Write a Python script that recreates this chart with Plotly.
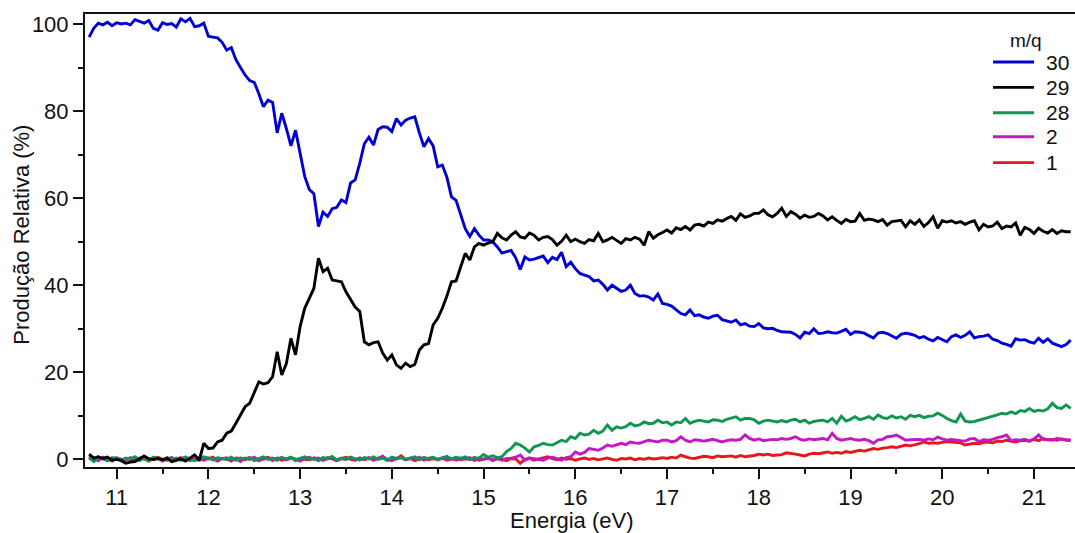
import plotly.graph_objects as go

# Relative ion yield (%) vs photon energy (eV), sampled every 0.05 eV from 10.70 eV
ENERGY_START = 10.70
ENERGY_STEP = 0.05

# m/q = 30
yield_30 = [
    97.0, 99.0, 100.2, 99.8, 100.4, 99.6, 100.3, 100.0, 100.2, 99.8,
    101.0, 100.6, 100.2, 100.8, 99.0, 98.6, 100.3, 99.9, 100.1, 99.3,
    101.2, 100.5, 101.3, 99.4, 99.6, 100.2, 97.2, 97.0, 96.8, 95.8,
    94.0, 94.6, 91.8, 90.0, 88.3, 87.0, 86.6, 84.0, 81.0, 82.5,
    82.0, 75.0, 79.5, 76.0, 72.0, 75.6, 70.5, 65.0, 62.0, 61.0,
    53.5, 56.8, 55.8, 57.6, 57.9, 59.6, 59.0, 63.5, 64.2, 68.0,
    72.5, 74.0, 72.2, 75.8, 76.4, 76.3, 75.3, 78.3, 76.8, 77.9,
    78.4, 78.7, 75.0, 71.8, 73.7, 72.0, 67.2, 67.6, 64.8, 60.3,
    59.5, 56.3, 53.0, 51.2, 53.0, 51.5, 50.4, 50.4, 50.0, 48.8,
    47.4, 47.7, 48.0, 46.3, 43.6, 46.5, 45.8, 46.0, 46.3, 46.7,
    45.2, 46.4, 45.9, 47.6, 44.3, 45.3, 43.8, 42.7, 42.3, 42.0,
    41.0, 41.2, 40.2, 38.9, 40.0, 39.2, 38.6, 38.9, 40.0, 38.1,
    37.5, 37.6, 37.3, 36.6, 38.0, 35.8, 35.6, 35.2, 34.3, 33.5,
    33.2, 34.3, 33.0, 33.2, 32.7, 32.4, 32.9, 33.1, 32.1, 31.8,
    31.5, 32.0, 30.9, 31.2, 30.6, 30.5, 31.2, 30.2, 30.0, 30.1,
    29.6, 29.3, 29.2, 29.2, 28.7, 27.9, 29.2, 28.9, 30.0, 28.9,
    29.0, 29.3, 29.1, 29.0, 29.4, 29.9, 28.7, 29.3, 29.2, 29.0,
    28.4, 27.9, 29.0, 29.2, 28.9, 28.4, 27.8, 28.7, 29.0, 28.8,
    28.5, 27.9, 28.2, 27.6, 27.2, 28.0, 27.5, 27.0, 28.2, 28.6,
    28.0, 28.5, 29.3, 27.9, 28.2, 28.3, 28.6, 27.6, 27.3, 26.7,
    26.4, 26.0, 27.7, 27.4, 27.5, 27.0, 26.7, 27.8, 26.9, 27.7,
    26.7, 26.3, 25.9, 26.4, 27.4,
]

# m/q = 29
yield_29 = [
    1.2, 0.3, 0.6, 0.2, 0.5, -0.2, 0.0, -0.3, -0.9, -0.6,
    -0.5, 0.2, 0.8, 0.1, 0.0, 0.2, -0.1, 0.3, -0.5, -0.2,
    0.1, -0.4, 0.4, 1.0, -0.2, 3.7, 2.5, 2.6, 4.0, 4.4,
    6.0, 6.5, 8.3, 10.2, 12.1, 12.9, 15.2, 17.8, 17.3, 17.6,
    19.0, 24.7, 19.4, 22.0, 27.8, 24.0, 30.5, 34.7, 37.0, 39.3,
    46.2, 43.1, 43.9, 41.2, 41.0, 40.8, 38.5, 36.6, 35.0, 34.0,
    27.0, 26.3, 26.8, 27.0, 24.4, 22.8, 24.0, 21.7, 20.9, 22.1,
    21.3, 21.8, 25.1, 26.3, 26.6, 30.9, 32.4, 34.7, 37.5, 40.8,
    41.0, 44.2, 47.3, 45.8, 48.8, 49.6, 49.2, 49.7, 50.0, 51.9,
    50.9, 50.4, 51.5, 52.3, 51.1, 50.8, 52.0, 51.5, 50.4, 51.0,
    51.2, 50.5, 49.2, 50.1, 51.5, 50.0, 50.6, 50.0, 49.6, 50.5,
    50.2, 51.9, 50.0, 50.4, 51.0, 50.3, 49.6, 50.7, 50.4, 51.0,
    50.6, 49.2, 52.3, 50.8, 51.6, 52.1, 52.7, 52.0, 53.2, 52.8,
    53.5, 52.7, 53.8, 54.0, 53.6, 54.5, 54.2, 55.0, 54.7, 55.3,
    55.8, 54.9, 56.4, 55.6, 55.9, 56.5, 56.5, 57.3, 56.2, 55.7,
    56.5, 57.7, 55.8, 56.9, 56.3, 55.4, 56.1, 55.6, 55.8, 56.5,
    55.9, 55.0, 55.7, 54.9, 54.2, 55.1, 54.6, 54.7, 56.5, 54.9,
    55.2, 55.0, 54.6, 55.1, 53.8, 54.6, 54.8, 54.9, 53.4, 54.8,
    54.0, 55.0, 53.5, 54.4, 55.7, 53.1, 54.8, 54.5, 54.8, 54.3,
    54.6, 54.0, 54.5, 54.8, 52.7, 54.0, 53.4, 53.6, 54.5, 53.0,
    53.6, 53.4, 54.3, 51.5, 53.3, 52.8, 51.9, 53.1, 52.4, 52.0,
    52.8, 51.9, 52.5, 52.3, 52.3,
]

# m/q = 28
yield_28 = [
    0.5, -0.5, 0.3, 0.2, -0.3, 0.4, 0.1, -0.2, 0.3, 0.0,
    0.6, -0.1, 0.2, -0.3, 0.5, 0.1, -0.2, 0.4, 0.0, 0.3,
    -0.2, 0.5, 0.1, -0.3, 0.2, 0.6, 0.3, -0.1, 0.4, 0.2,
    0.0, 0.5, -0.2, 0.3, 0.1, 0.4, -0.3, 0.2, 0.6, 0.0,
    0.3, -0.2, 0.4, 0.1, 0.5, -0.1, 0.2, 0.6, 0.0, 0.3,
    -0.3, 0.4, 0.2, 0.7, -0.1, 0.3, 0.0, 0.5, 0.2, -0.2,
    0.4, 0.1, 0.6, 0.0, 0.3, -0.2, 0.5, 0.2, 0.4, 0.0,
    0.3, 0.6, -0.1, 0.4, 0.2, 0.5, 0.0, 0.3, 0.7, 0.1,
    0.5, 0.2, 0.6, 0.0, 0.4, 0.3, 1.1, 0.5, 0.8, 0.4,
    0.6, 1.8, 2.5, 3.7, 3.3, 2.6, 1.7, 2.9, 3.2, 3.7,
    3.4, 3.3, 3.8, 4.4, 4.1, 5.2, 4.8, 6.0, 5.6, 5.8,
    6.7, 6.0, 6.5, 7.9, 6.7, 7.5, 7.2, 7.5, 8.3, 7.7,
    7.9, 8.6, 8.2, 8.3, 9.0, 8.4, 8.6, 7.9, 8.6, 8.4,
    9.4, 8.3, 8.7, 9.0, 8.8, 8.6, 9.1, 9.0, 8.7, 9.2,
    9.5, 9.8, 9.0, 9.4, 9.4, 9.1, 8.3, 8.8, 9.0, 8.8,
    8.6, 8.9, 8.6, 9.0, 9.2, 8.6, 9.0, 8.3, 8.7, 8.9,
    9.0, 8.6, 9.4, 8.3, 9.9, 8.8, 9.2, 9.8, 9.1, 9.4,
    9.8, 9.2, 10.2, 9.6, 9.4, 10.0, 9.5, 9.8, 9.2, 10.1,
    9.8, 10.1, 9.6, 9.9, 10.0, 10.6, 10.1, 9.4, 8.9, 8.6,
    10.4, 8.8, 8.6, 8.7, 9.0, 9.2, 9.6, 9.8, 10.2, 10.6,
    10.4, 10.9, 10.5, 11.2, 11.0, 11.7, 11.0, 11.3, 11.1, 11.6,
    12.9, 11.9, 11.7, 12.5, 11.7,
]

# m/q = 2
yield_2 = [
    0.8, 0.2, -0.3, 0.5, 0.0, -0.4, 0.3, 0.1, -0.2, 0.4,
    0.0, -0.3, 0.5, 0.2, -0.1, 0.3, -0.4, 0.1, 0.4, -0.2,
    0.2, 0.5, -0.3, 0.0, 0.4, -0.2, 0.3, 0.1, -0.4, 0.2,
    0.4, -0.1, 0.2, -0.5, 0.3, 0.0, 0.5, -0.2, 0.1, 0.3,
    -0.3, 0.2, 0.4, -0.1, 0.3, 0.1, -0.4, 0.2, 0.5, 0.0,
    0.3, -0.2, 0.1, 0.4, -0.3, 0.2, 0.0, 0.5, -0.1, 0.3,
    0.1, 0.4, -0.2, 0.3, 0.6, 0.0, -0.3, 0.2, 0.4, -0.1,
    0.3, 0.0, 0.5, -0.2, 0.2, 0.4, -0.1, 0.3, 0.0, 0.2,
    -0.2, 0.3, 0.1, 0.4, -0.3, 0.2, 0.0, 0.3, -0.1, 0.2,
    -0.2, 0.2, 0.3, 0.5, 1.0, -0.2, 0.3, 0.2, 0.0, -0.2,
    0.3, 0.5, 0.2, -0.2, 0.4, 0.6, 1.7, 1.2, 1.6, 2.5,
    2.3, 2.1, 2.6, 3.3, 3.0, 3.3, 3.7, 3.4, 4.0, 3.8,
    3.7, 4.1, 4.4, 4.2, 4.0, 4.4, 4.4, 4.0, 4.3, 5.2,
    4.4, 4.0, 4.5, 4.4, 4.2, 4.4, 4.6, 4.3, 4.0, 4.3,
    4.5, 4.4, 4.6, 5.6, 4.8, 4.4, 4.7, 4.3, 4.4, 4.6,
    4.5, 4.8, 4.6, 4.8, 5.2, 4.6, 4.4, 4.7, 4.5, 4.6,
    4.8, 4.5, 6.0, 4.8, 4.4, 4.6, 4.8, 4.5, 4.4, 4.6,
    4.3, 3.7, 4.5, 4.6, 5.2, 5.3, 5.6, 5.0, 4.4, 4.5,
    4.6, 4.6, 4.4, 4.7, 4.5, 5.1, 4.7, 4.4, 4.6, 4.4,
    4.3, 4.2, 4.7, 4.8, 4.1, 4.5, 4.4, 4.6, 5.0, 5.2,
    5.6, 4.3, 4.5, 4.4, 4.6, 4.2, 4.7, 5.6, 4.6, 4.5,
    4.4, 4.8, 4.6, 4.5, 4.4,
]

# m/q = 1
yield_1 = [
    0.3, -0.2, 0.5, 0.1, -0.3, 0.2, 0.4, -0.1, 0.2, 0.0,
    -0.2, 0.3, 0.1, -0.4, 0.2, 0.5, 0.0, -0.2, 0.3, 0.1,
    0.4, -0.3, 0.2, 0.0, -0.2, 0.3, 0.1, 0.5, -0.3, 0.2,
    0.1, -0.4, 0.3, 0.2, -0.1, 0.4, 0.0, -0.3, 0.2, 0.5,
    0.0, 0.3, -0.2, 0.1, 0.4, -0.3, 0.2, 0.0, -0.1, 0.3,
    0.2, -0.2, 0.4, 0.1, -0.3, 0.2, 0.5, 0.0, -0.2, 0.3,
    -0.1, 0.3, 0.0, 0.2, 0.7, -0.2, 0.3, 0.1, 0.8, 0.0,
    0.2, -0.3, 0.1, 0.4, -0.1, 0.2, 0.0, 0.3, -0.2, 0.1,
    0.3, -0.1, 0.2, 0.0, 0.4, -0.2, 0.1, 0.3, -0.3, 0.2,
    0.0, -0.3, 0.2, 0.1, -0.9, 0.0, 0.3, -0.2, 0.1, 0.4,
    0.6, 0.2, -0.1, 0.3, 0.0, 0.2, -0.2, 0.1, 0.3, 0.0,
    0.2, -0.1, 0.1, 0.3, 0.0, -0.2, 0.2, 0.1, 0.3, -0.1,
    0.2, 0.0, 0.3, 0.1, 0.2, 0.4, 0.2, 0.5, 0.3, 1.0,
    0.6, 0.3, 0.2, 0.5, 0.7, 0.6, 0.4, 0.8, 0.6, 0.7,
    0.8, 0.5, 0.9, 0.6, 0.7, 0.9, 1.2, 1.0, 1.2, 0.9,
    1.0, 1.1, 1.5, 1.4, 1.2, 1.0, 0.8, 1.2, 1.4, 1.3,
    1.5, 1.7, 1.4, 1.6, 1.4, 1.8, 1.6, 1.9, 2.1, 1.9,
    2.2, 2.5, 2.3, 2.6, 2.7, 2.9, 2.7, 3.0, 3.3, 3.1,
    3.3, 3.6, 4.0, 3.7, 3.8, 3.7, 3.9, 4.1, 4.0, 3.9,
    3.8, 3.3, 3.5, 3.7, 3.6, 3.9, 4.0, 3.8, 4.2, 4.1,
    4.4, 4.2, 4.0, 4.3, 4.4, 4.2, 4.6, 4.3, 4.8, 4.5,
    4.6, 4.4, 4.7, 4.4, 4.4,
]

series_labels = ["30", "29", "28", "2", "1"]
series_colors = ["#0000d2", "#000000", "#0f9650", "#c418c4", "#e8161b"]

x_ticks = [11, 12, 13, 14, 15, 16, 17, 18, 19, 20, 21]
y_ticks = [0, 20, 40, 60, 80, 100]


def energy_axis(values):
    return [round(ENERGY_START + ENERGY_STEP * i, 2) for i in range(len(values))]


series = {
    "30": yield_30,
    "29": yield_29,
    "28": yield_28,
    "2": yield_2,
    "1": yield_1,
}

FONT = "Liberation Sans, Arial, sans-serif"
INK = "#111111"

fig = go.Figure()

# draw the small signals first so the large ones sit on top
draw_order = ["1", "2", "28", "30", "29"]
for label in draw_order:
    idx = series_labels.index(label)
    values = series[label]
    fig.add_trace(go.Scatter(
        x=energy_axis(values),
        y=values,
        mode="lines",
        name=label,
        showlegend=False,
        line=dict(color=series_colors[idx], width=2.9),
    ))

# compact legend block in the upper-right corner (paper coordinates)
legend_line_x0, legend_line_x1 = 0.9172, 0.9586
legend_text_x = 0.9687
legend_rows_y = [0.894, 0.838, 0.782, 0.729, 0.672]
shapes = []
annotations = [
    dict(text="m/q", xref="paper", yref="paper", x=0.9505, y=0.9426,
         xanchor="center", yanchor="middle", showarrow=False,
         font=dict(size=19, color=INK)),
]
for label, color, ry in zip(series_labels, series_colors, legend_rows_y):
    shapes.append(dict(type="line", xref="paper", yref="paper",
                       x0=legend_line_x0, x1=legend_line_x1, y0=ry, y1=ry,
                       line=dict(color=color, width=2.9)))
    annotations.append(dict(text=label, xref="paper", yref="paper",
                            x=legend_text_x, y=ry, xanchor="left", yanchor="middle",
                            showarrow=False, font=dict(size=21, color=INK)))

annotations += [
    dict(text="Energia (eV)", xref="paper", yref="paper", x=0.4924, y=-0.119,
         xanchor="center", yanchor="middle", showarrow=False,
         font=dict(size=22, color=INK)),
    dict(text="Produção Relativa (%)", xref="paper", yref="paper", x=-0.0636, y=0.513,
         xanchor="center", yanchor="middle", textangle=-90, showarrow=False,
         font=dict(size=22, color=INK)),
]

fig.update_layout(
    width=1075,
    height=533,
    margin=dict(l=85, r=0, t=14, b=66),
    paper_bgcolor="white",
    plot_bgcolor="white",
    font=dict(family=FONT, size=22, color=INK),
    showlegend=False,
    shapes=shapes,
    annotations=annotations,
    xaxis=dict(
        range=[10.655, 21.447],
        tickvals=x_ticks,
        ticktext=[str(v) for v in x_ticks],
        ticks="outside",
        ticklen=10,
        tickwidth=2,
        tickcolor=INK,
        minor=dict(dtick=0.5, ticks="outside", ticklen=5, tickwidth=2, tickcolor=INK),
        showline=True,
        linewidth=2,
        linecolor=INK,
        mirror=True,
        showgrid=False,
        zeroline=False,
        tickfont=dict(size=22),
    ),
    yaxis=dict(
        range=[-1.75, 102.3],
        tickvals=y_ticks,
        ticktext=[str(v) for v in y_ticks],
        ticks="outside",
        ticklen=10,
        tickwidth=2,
        tickcolor=INK,
        minor=dict(dtick=10, ticks="outside", ticklen=5, tickwidth=2, tickcolor=INK),
        showline=True,
        linewidth=2,
        linecolor=INK,
        mirror=False,
        showgrid=False,
        zeroline=False,
        tickfont=dict(size=22),
    ),
)

fig.write_html("out.html")
